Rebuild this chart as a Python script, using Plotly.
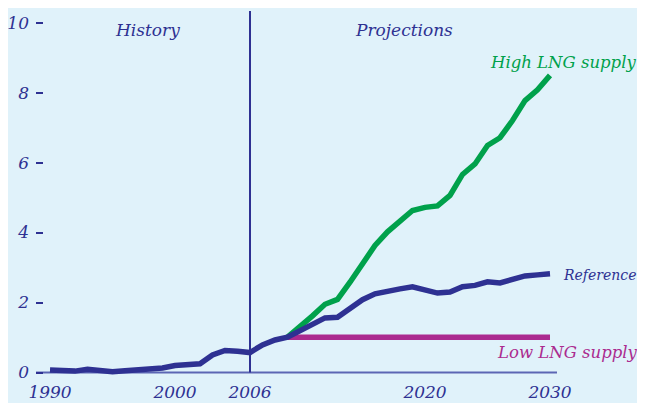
import plotly.graph_objects as go

years_hist = list(range(1990, 2007))
ref_hist = [0.07, 0.05, 0.04, 0.09, 0.06, 0.02, 0.05, 0.08, 0.10, 0.13,
            0.20, 0.24, 0.25, 0.50, 0.63, 0.61, 0.57]

years_proj = list(range(2007, 2031))
ref_proj = [0.79, 0.93, 1.01, 1.18, 1.39, 1.56, 1.58, 1.82, 2.08, 2.25,
            2.34, 2.39, 2.45, 2.36, 2.27, 2.30, 2.45, 2.49, 2.59, 2.56,
            2.65, 2.76, 2.79, 2.82]

years_high = list(range(2009, 2031))
high_lng = [1.01, 1.30, 1.62, 1.95, 2.09, 2.58, 3.13, 3.63, 4.02, 4.33,
            4.63, 4.72, 4.76, 5.06, 5.66, 5.96, 6.49, 6.71, 7.20, 7.77,
            8.08, 8.49]

years_low = list(range(2009, 2031))
low_lng = [1.01] * len(years_low)

x_ticks = [1990, 2000, 2006, 2020, 2030]
y_ticks = [0, 2, 4, 6, 8, 10]

NAVY = "#2e3192"
GREEN = "#00a14b"
MAGENTA = "#ab2b8f"
BG = "#e0f2fa"
FONT = "DejaVu Serif"

X_RANGE = [1988.88, 2030.56]
Y_RANGE = [-0.3, 10.36]

fig = go.Figure()

fig.add_trace(go.Scatter(x=years_high, y=high_lng, mode="lines",
                         line=dict(color=GREEN, width=5.5), hoverinfo="skip"))
fig.add_trace(go.Scatter(x=years_low, y=low_lng, mode="lines",
                         line=dict(color=MAGENTA, width=5.5), hoverinfo="skip"))
fig.add_trace(go.Scatter(x=years_hist + years_proj, y=ref_hist + ref_proj, mode="lines",
                         line=dict(color=NAVY, width=5.5), hoverinfo="skip"))

# background panel
fig.add_shape(type="rect", xref="paper", yref="paper",
              x0=-0.06, x1=1.2, y0=-0.06, y1=1.0054,
              fillcolor=BG, line=dict(width=0), layer="below")
# x axis line
fig.add_shape(type="line", xref="paper", yref="y", x0=0, x1=1, y0=0, y1=0,
              line=dict(color="#5c66b4", width=2), layer="below")
# history/projection divider
fig.add_shape(type="line", xref="x", yref="y", x0=2006, x1=2006, y0=0, y1=10.33,
              line=dict(color=NAVY, width=2))


def xp(year):
    return (year - X_RANGE[0]) / (X_RANGE[1] - X_RANGE[0])


def ann(text, x, y, color, xanchor="left", size=17):
    fig.add_annotation(text=text, x=xp(x), y=y, xref="paper", yref="y", showarrow=False,
                       xanchor=xanchor, yanchor="middle",
                       font=dict(family=FONT, size=size, color=color, style="italic"))


ann("History", 1997.8, 9.79, NAVY, "center")
ann("Projections", 2018.3, 9.79, NAVY, "center")
ann("High LNG supply", 2025.0, 8.87, GREEN, size=16.5)
ann("Reference", 2030.9, 2.79, NAVY, size=14)
ann("Low LNG supply", 2025.6, 0.56, MAGENTA, size=16.5)

fig.update_layout(
    width=637, height=395,
    margin=dict(l=28, r=88, t=2, b=20, autoexpand=False),
    paper_bgcolor="white", plot_bgcolor="rgba(0,0,0,0)",
    showlegend=False,
    font=dict(family=FONT, size=17, color=NAVY, style="italic"),
)
fig.update_xaxes(range=X_RANGE, tickvals=x_ticks,
                 ticktext=[str(v) for v in x_ticks],
                 showgrid=False, zeroline=False, showline=False, ticks="",
                 ticklabelstandoff=-3,
                 tickfont=dict(family=FONT, size=17, color=NAVY, style="italic"),
                 automargin=False)
fig.update_yaxes(range=Y_RANGE, tickvals=y_ticks,
                 ticktext=[str(v) for v in y_ticks],
                 showgrid=False, zeroline=False, showline=False,
                 ticks="inside", ticklen=7, tickwidth=1.5, tickcolor=NAVY,
                 ticklabelstandoff=6,
                 tickfont=dict(family=FONT, size=17, color=NAVY, style="italic"),
                 automargin=False)

fig.write_html("out.html")
